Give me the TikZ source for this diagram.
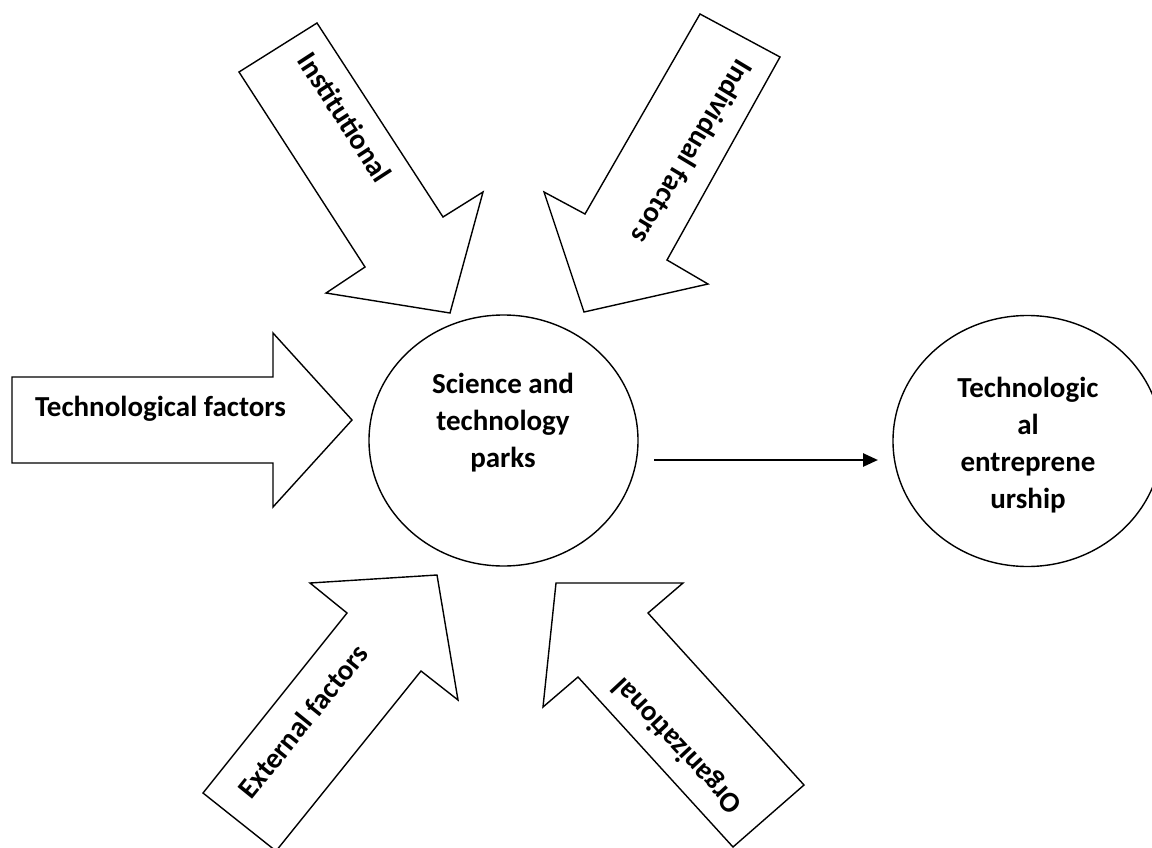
\documentclass[tikz,border=0pt]{standalone}
\usepackage{fontspec}
\setmainfont{Carlito}
\usetikzlibrary{arrows.meta,shapes.geometric}
\begin{document}
\begin{tikzpicture}[x=1pt,y=-1pt,
  blk/.style={draw=black,line width=1.4pt,fill=white,line join=miter},
  ell/.style={draw=black,ellipse,line width=1.4pt,minimum width=269pt,minimum height=251pt,inner sep=0pt},
  lbl/.style={font=\fontsize{29}{37}\selectfont\bfseries,align=center,inner sep=0pt},
  conn/.style={line width=2.6pt,-{Triangle[length=15pt,width=13pt]}}]
\useasboundingbox (0,0) rectangle (1152,847);
\clip (0,0) rectangle (1152,847);
\fill[white] (0,0) rectangle (1152,847);

% Institutional (top left, pointing down-right)
\draw[blk] (239,72) -- (317,23) -- (443,217) -- (483,192) -- (450,313) -- (326,293) -- (365,267) -- cycle;
\node[lbl,rotate=-57] (inst) at (345,117) {Institutional};

% Individual factors (top right, pointing down-left)
\draw[blk] (700,14) -- (780,57) -- (667,260) -- (708,284) -- (584,312) -- (544,192) -- (585,214) -- cycle;
\node[lbl,rotate=-121] (indiv) at (693,152) {Individual factors};

% Technological factors (left, pointing right)
\draw[blk] (12,377) -- (273,377) -- (273,333) -- (352,420) -- (273,507) -- (273,463) -- (12,463) -- cycle;
\node[lbl] (techf) at (160.5,408.5) {Technological factors};

% External factors (bottom left, pointing up-right)
\draw[blk] (276,851) -- (203,793) -- (347,613) -- (310,583) -- (437,575) -- (458,700) -- (421,671) -- cycle;
\node[lbl,rotate=51] (ext) at (303,721) {External factors};

% Organizational (bottom, pointing up-left)
\draw[blk] (733,847) -- (578,677) -- (543,707) -- (556,583) -- (683,583) -- (648,613) -- (804,785) -- cycle;
\node[lbl,rotate=133] (org) at (678,745) {Organizational};

% Ellipses
\node[ell] (sci) at (503.5,440.5) {};
\node[lbl] (scit) at (503,422.5) {Science and\\technology\\parks};
\node[ell] (te) at (1027.5,441) {};
\node[lbl] (tet) at (1028,445.5) {Technologic\\al\\entreprene\\urship};

% Connector
\coordinate (a1) at (654,460);
\coordinate (a2) at (878,460);
\draw[conn] (a1) -- (a2);
\end{tikzpicture}
\end{document}
